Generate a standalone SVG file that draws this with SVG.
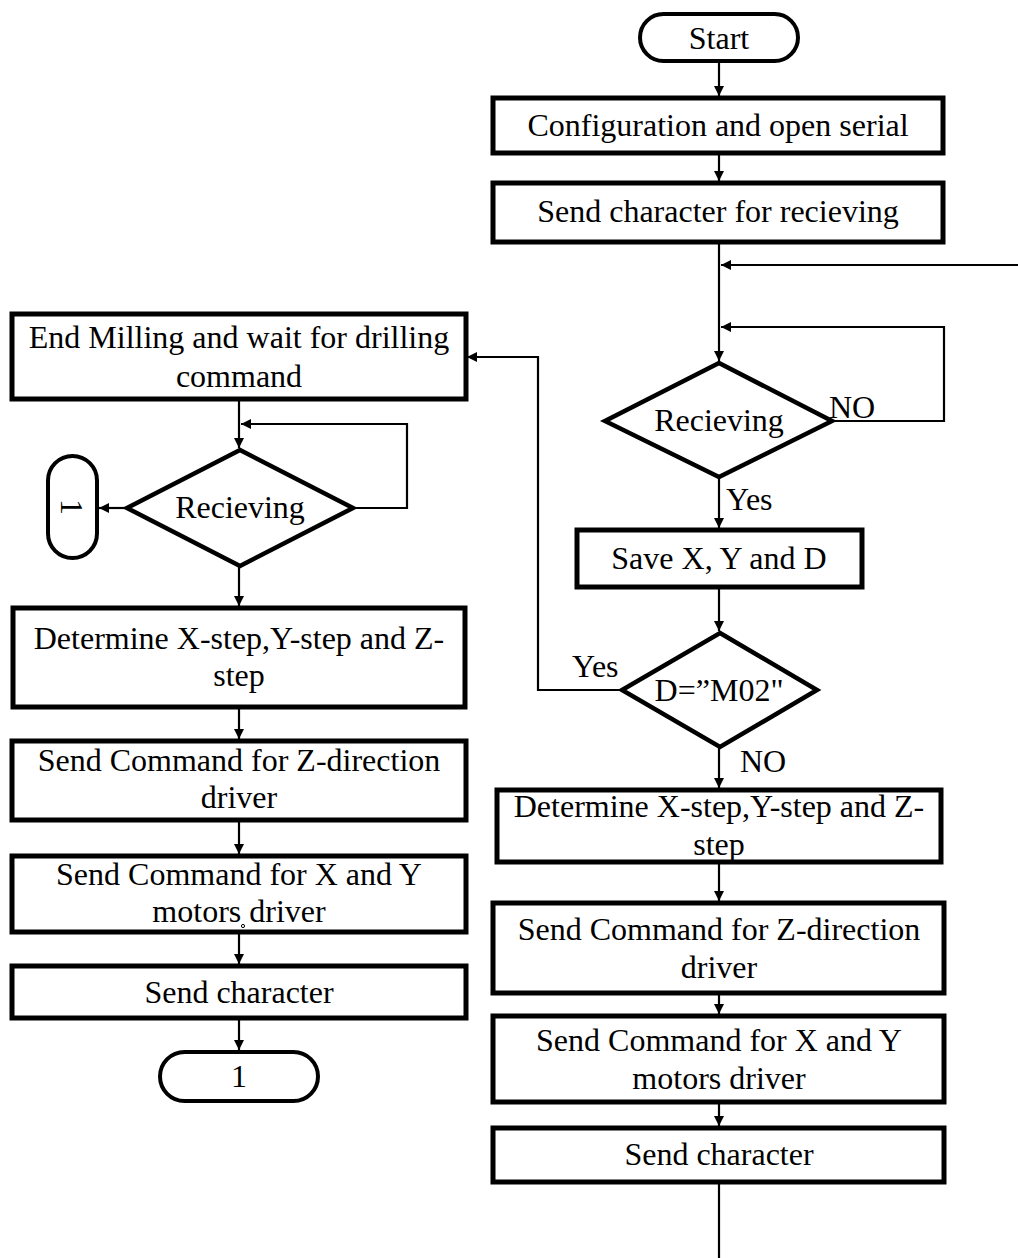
<svg xmlns="http://www.w3.org/2000/svg" width="1018" height="1258" viewBox="0 0 1018 1258">
  <defs>
    <marker id="arrow" viewBox="0 0 10 10" refX="10" refY="5" markerWidth="10" markerHeight="10" markerUnits="userSpaceOnUse" orient="auto">
      <path d="M0,0 L10,5 L0,10 z" fill="#000"/>
    </marker>
    <style>
      .box { fill: #fff; stroke: #000; stroke-width: 5; }
      .dec { fill: #fff; stroke: #000; stroke-width: 4.5; stroke-linejoin: miter; }
      .term { fill: #fff; stroke: #000; stroke-width: 4; }
      .line { fill: none; stroke: #000; stroke-width: 2.2; }
      .arr { marker-end: url(#arrow); }
      text { font-family: "Liberation Serif", "Times New Roman", serif; font-size: 32px; fill: #000; }
      .c { text-anchor: middle; }
    </style>
  </defs>
  <rect width="1018" height="1258" fill="#fff"/>

  <!-- connectors -->
  <g id="connectors">
    <!-- right column -->
    <line class="line arr" x1="719" y1="62" x2="719" y2="96"/>
    <line class="line arr" x1="719" y1="153" x2="719" y2="181"/>
    <line class="line arr" x1="719" y1="242" x2="719" y2="361"/>
    <line class="line arr" x1="1018" y1="265" x2="721" y2="265"/>
    <polyline class="line arr" points="832,421 944,421 944,327 721,327"/>
    <line class="line arr" x1="719" y1="477" x2="719" y2="528"/>
    <line class="line arr" x1="719" y1="587" x2="719" y2="631"/>
    <polyline class="line arr" points="622,690 538,690 538,357 467,357"/>
    <line class="line arr" x1="719" y1="747" x2="719" y2="788"/>
    <line class="line arr" x1="719" y1="862" x2="719" y2="901"/>
    <line class="line arr" x1="719" y1="993" x2="719" y2="1014"/>
    <line class="line arr" x1="719" y1="1102" x2="719" y2="1126"/>
    <line class="line" x1="719" y1="1182" x2="719" y2="1258"/>
    <!-- left column -->
    <line class="line arr" x1="239" y1="399" x2="239" y2="448"/>
    <polyline class="line arr" points="353,508 407,508 407,424 241,424"/>
    <line class="line arr" x1="127" y1="508" x2="99" y2="508"/>
    <line class="line arr" x1="239" y1="566" x2="239" y2="606"/>
    <line class="line arr" x1="239" y1="707" x2="239" y2="739"/>
    <line class="line arr" x1="239" y1="820" x2="239" y2="854"/>
    <line class="line arr" x1="239" y1="932" x2="239" y2="964"/>
    <line class="line arr" x1="239" y1="1018" x2="239" y2="1050"/>
  </g>

  <!-- branch labels -->
  <g id="labels">
    <text x="829" y="418">NO</text>
    <text x="726" y="510">Yes</text>
    <text x="572" y="677">Yes</text>
    <text x="740" y="772">NO</text>
  </g>

  <!-- right column nodes -->
  <g id="start">
    <rect class="term" x="640" y="14" width="158" height="47" rx="23.5"/>
    <text class="c" x="719" y="49">Start</text>
  </g>
  <g id="config">
    <rect class="box" x="493" y="98" width="450" height="55"/>
    <text class="c" x="718" y="136">Configuration and open serial</text>
  </g>
  <g id="send-recv">
    <rect class="box" x="493" y="183" width="450" height="59"/>
    <text class="c" x="718" y="222">Send character for recieving</text>
  </g>
  <g id="recv-right">
    <polygon class="dec" points="719,363 832,421 719,477 605,421"/>
    <text class="c" x="719" y="431">Recieving</text>
  </g>
  <g id="save">
    <rect class="box" x="577" y="530" width="285" height="57"/>
    <text class="c" x="719" y="569">Save X, Y and D</text>
  </g>
  <g id="check-m02">
    <polygon class="dec" points="720,633 817,690 720,747 622,690"/>
    <text class="c" x="719" y="701">D=”M02"</text>
  </g>
  <g id="steps-right">
    <rect class="box" x="497" y="790" width="444" height="72"/>
    <text class="c" x="719" y="817">Determine X-step,Y-step and Z-</text>
    <text class="c" x="719" y="855">step</text>
  </g>
  <g id="zdir-right">
    <rect class="box" x="493" y="903" width="451" height="90"/>
    <text class="c" x="719" y="940">Send Command for Z-direction</text>
    <text class="c" x="719" y="978">driver</text>
  </g>
  <g id="xy-right">
    <rect class="box" x="493" y="1016" width="451" height="86"/>
    <text class="c" x="719" y="1051">Send Command for X and Y</text>
    <text class="c" x="719" y="1089">motors driver</text>
  </g>
  <g id="sendchar-right">
    <rect class="box" x="493" y="1128" width="451" height="54"/>
    <text class="c" x="719" y="1165">Send character</text>
  </g>

  <!-- left column nodes -->
  <g id="end-milling">
    <rect class="box" x="12" y="314" width="454" height="85"/>
    <text class="c" x="239" y="348">End Milling and wait for drilling</text>
    <text class="c" x="239" y="387">command</text>
  </g>
  <g id="recv-left">
    <polygon class="dec" points="240,450 353,508 240,566 127,508"/>
    <text class="c" x="240" y="518">Recieving</text>
  </g>
  <g id="conn-1-side">
    <rect class="term" x="48" y="456" width="49" height="102" rx="24.5"/>
    <text class="c" x="72" y="507" transform="rotate(90 72 507)" dy="11">1</text>
  </g>
  <g id="steps-left">
    <rect class="box" x="13" y="608" width="452" height="99"/>
    <text class="c" x="239" y="649">Determine X-step,Y-step and Z-</text>
    <text class="c" x="239" y="686">step</text>
  </g>
  <g id="zdir-left">
    <rect class="box" x="12" y="741" width="454" height="79"/>
    <text class="c" x="239" y="771">Send Command for Z-direction</text>
    <text class="c" x="239" y="808">driver</text>
  </g>
  <g id="xy-left">
    <rect class="box" x="12" y="856" width="454" height="76"/>
    <text class="c" x="239" y="885">Send Command for X and Y</text>
    <text class="c" x="239" y="922">motors driver</text>
    <circle cx="243" cy="926" r="1.6" fill="none" stroke="#000" stroke-width="1"/>
  </g>
  <g id="sendchar-left">
    <rect class="box" x="12" y="966" width="454" height="52"/>
    <text class="c" x="239" y="1003">Send character</text>
  </g>
  <g id="conn-1-bottom">
    <rect class="term" x="160" y="1052" width="158" height="49" rx="24.5"/>
    <text class="c" x="239" y="1087">1</text>
  </g>
</svg>
